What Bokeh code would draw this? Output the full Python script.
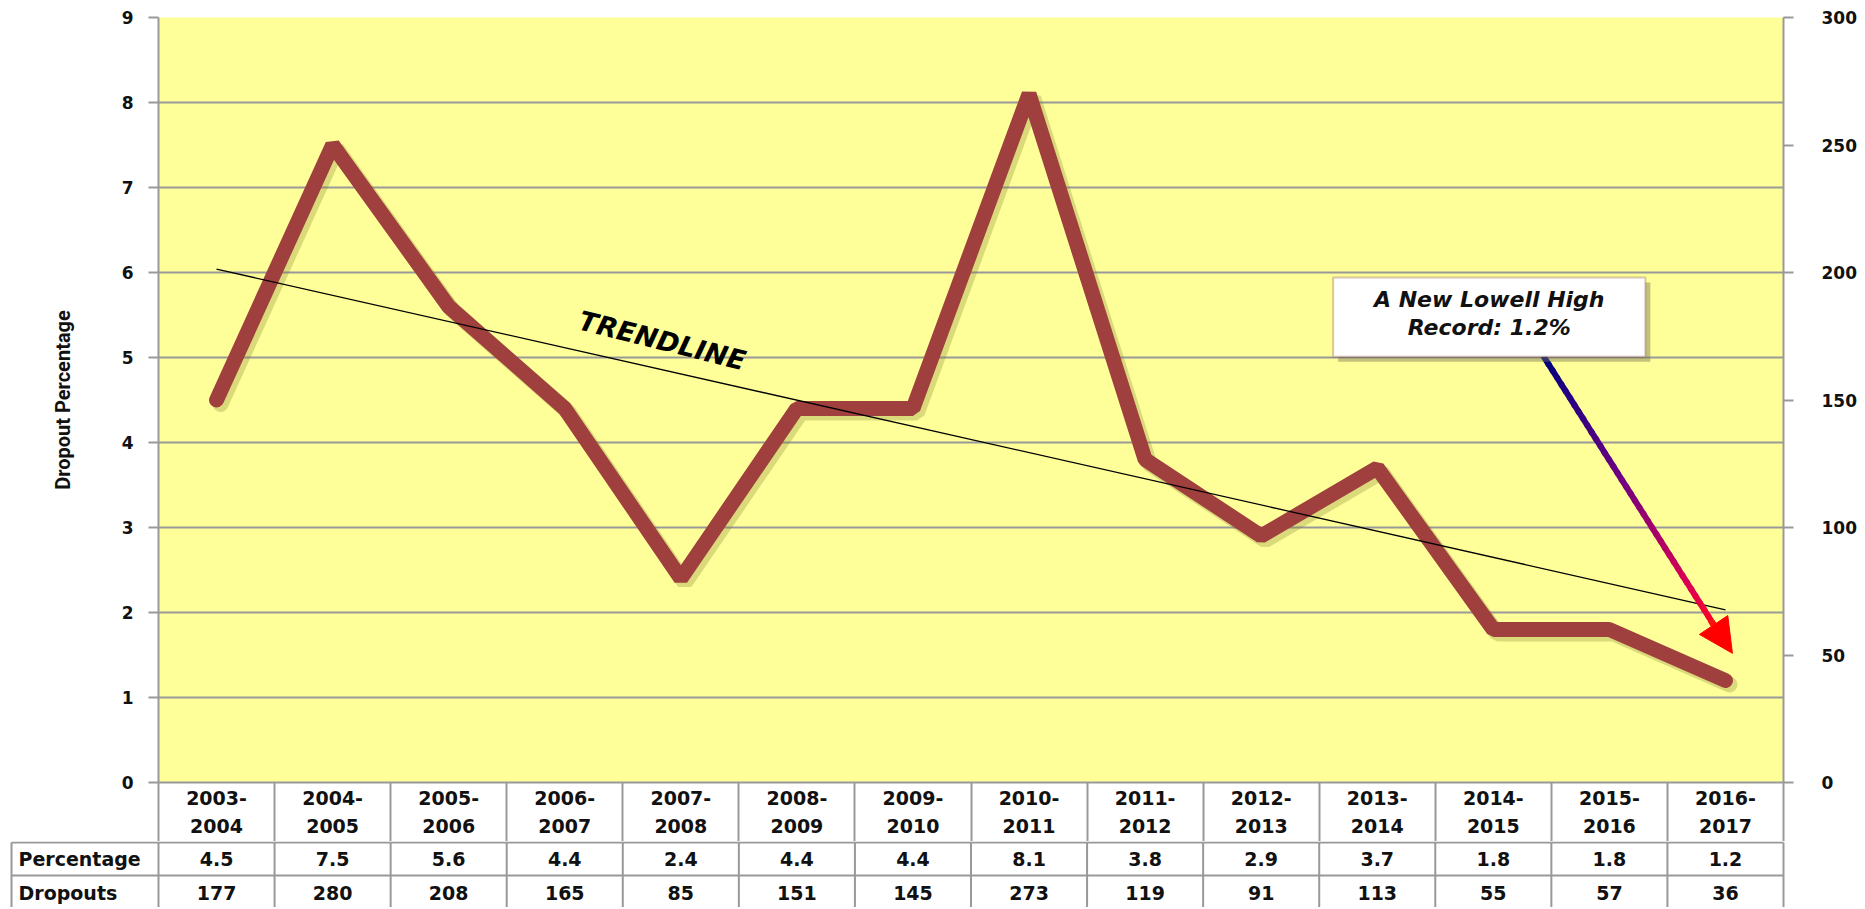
import numpy as np
from bokeh.plotting import figure
from bokeh.models import (Range1d, LinearAxis, FixedTicker, BoxAnnotation, Label,
                          Arrow, NormalHead, ColumnDataSource)
from bokeh.embed import file_html
from bokeh.resources import INLINE
from bokeh.core.properties import value

# ---------------- data ----------------
categories = ["2003-2004", "2004-2005", "2005-2006", "2006-2007", "2007-2008",
              "2008-2009", "2009-2010", "2010-2011", "2011-2012", "2012-2013",
              "2013-2014", "2014-2015", "2015-2016", "2016-2017"]
percentage = [4.5, 7.5, 5.6, 4.4, 2.4, 4.4, 4.4, 8.1, 3.8, 2.9, 3.7, 1.8, 1.8, 1.2]
dropouts = [177, 280, 208, 165, 85, 151, 145, 273, 119, 91, 113, 55, 57, 36]
left_ticks = list(range(0, 10))
right_ticks = list(range(0, 301, 50))
row_labels = ["Percentage", "Dropouts"]
note_lines = ["A New Lowell High", "Record: 1.2%"]
trend_text = "TRENDLINE"
y_title = "Dropout Percentage"

# ---------------- layout constants ----------------
n = len(categories)
xs = list(range(n))
FRAME_W, FRAME_H = 1625, 765
PX_X = FRAME_W / n
PX_Y = FRAME_H / 9.0
GRID = "#999999"
LINE_COL = "#A0403E"
FONT = "DejaVu Sans"
TABLE_FS = "19px"
W = 1860
LEFT = 158
RIGHT = W - LEFT - FRAME_W
HEADER_H = 59

p = figure(width=W, height=17 + FRAME_H + HEADER_H, x_range=Range1d(-0.5, n - 0.5),
           y_range=Range1d(0, 9), output_backend="svg", toolbar_location=None,
           min_border_left=LEFT, min_border_right=RIGHT, min_border_top=17,
           min_border_bottom=HEADER_H,
           background_fill_color="#FFFF99", border_fill_color="white", outline_line_color=None)

# bottom axis = header row of the table
xa = p.xaxis[0]
xa.ticker = FixedTicker(ticks=xs, minor_ticks=[i - 0.5 for i in range(n + 1)])
xa.major_label_overrides = {i: c.replace("-", "-\n") for i, c in enumerate(categories)}
xa.major_tick_out = 0
xa.major_tick_in = 0
xa.minor_tick_out = HEADER_H
xa.minor_tick_in = 0
xa.minor_tick_line_color = GRID
xa.minor_tick_line_width = 2
xa.axis_line_color = GRID
xa.axis_line_width = 2
xa.major_label_standoff = 4 - HEADER_H
xa.major_label_text_font = FONT
xa.major_label_text_font_style = "bold"
xa.major_label_text_font_size = TABLE_FS
xa.major_label_text_color = "#111111"
xa.major_label_text_line_height = 1.3
p.xgrid.visible = False

# left axis
ya = p.yaxis[0]
ya.ticker = FixedTicker(ticks=left_ticks)
p.ygrid.ticker = FixedTicker(ticks=left_ticks)
p.ygrid.grid_line_color = GRID
p.ygrid.grid_line_width = 2
ya.axis_label = y_title
ya.axis_label_text_font = "Roboto"
ya.axis_label_text_font_style = "bold"
ya.axis_label_text_font_size = "20px"
ya.axis_label_text_color = "#111111"
ya.axis_label_standoff = 44
ya.major_label_standoff = 15

# right axis
p.extra_y_ranges = {"drop": Range1d(0, 300)}
ra = LinearAxis(y_range_name="drop", ticker=FixedTicker(ticks=right_ticks))
p.add_layout(ra, "right")
ra.major_label_standoff = 28

for ax in (ya, ra):
    ax.axis_line_color = GRID
    ax.axis_line_width = 2
    ax.major_tick_line_color = GRID
    ax.major_tick_line_width = 2
    ax.major_tick_out = 10
    ax.major_tick_in = 0
    ax.minor_tick_line_color = None
    ax.major_label_text_font = FONT
    ax.major_label_text_font_style = "bold"
    ax.major_label_text_font_size = "17px"
    ax.major_label_text_color = "#111111"

# trend line (least squares)
coef = np.polyfit(xs, percentage, 1)
trend_x = [xs[0], xs[-1]]
trend_y = list(np.polyval(coef, trend_x))

# main line shadow + line
sx = [x + 4 / PX_X for x in xs]
sy = [y - 4 / PX_Y for y in percentage]
p.line(sx, sy, line_color="#7a7a30", line_alpha=0.28, line_width=16,
       line_join="bevel", line_cap="round")
p.line(xs, percentage, line_color=LINE_COL, line_width=15, line_join="bevel", line_cap="round")
p.line(trend_x, trend_y, line_color="black", line_width=1.3)

# TRENDLINE label
p.add_layout(Label(x=3.84, y=5.2, text=trend_text, angle=-0.244, text_align="center",
                   text_baseline="middle", text_font=FONT, text_font_style="bold italic",
                   text_font_size="27px", text_color="black"))

# callout box with shadow
bl, br, bt, bb = 9.62, 12.31, 5.94, 5.01
p.add_layout(BoxAnnotation(left=bl + 5 / PX_X, right=br + 5 / PX_X, top=bt - 5 / PX_Y,
                           bottom=bb - 5 / PX_Y, fill_color="#777755", fill_alpha=0.45,
                           line_color=None))
p.add_layout(BoxAnnotation(left=bl, right=br, top=bt, bottom=bb, fill_color="white",
                           fill_alpha=1.0, line_color="#7f3f3f", line_width=2))
for txt, yy in zip(note_lines, (5.68, 5.35)):
    p.add_layout(Label(x=(bl + br) / 2, y=yy, text=txt, text_align="center",
                       text_baseline="middle", text_font=FONT, text_font_style="bold italic",
                       text_font_size="22px", text_color="#111111"))

# gradient arrow
ax0, ay0 = 11.43, 5.02
ax1, ay1 = 12.92, 1.81
tipx, tipy = 13.06, 1.52
stops_t = [0.0, 0.45, 0.85, 1.0]
stops_c = [(0, 0, 128), (112, 0, 130), (222, 0, 80), (255, 0, 30)]
N = 40
seg = dict(x0=[], y0=[], x1=[], y1=[], c=[])
for k in range(N):
    t0, t1 = k / N, (k + 1) / N
    tm = (t0 + t1) / 2
    rgb = [int(round(np.interp(tm, stops_t, [c[j] for c in stops_c]))) for j in range(3)]
    seg["x0"].append(ax0 + (ax1 - ax0) * t0)
    seg["y0"].append(ay0 + (ay1 - ay0) * t0)
    seg["x1"].append(ax0 + (ax1 - ax0) * min(t1 + 0.01, 1.0))
    seg["y1"].append(ay0 + (ay1 - ay0) * min(t1 + 0.01, 1.0))
    seg["c"].append("#%02x%02x%02x" % tuple(rgb))
p.segment("x0", "y0", "x1", "y1", source=ColumnDataSource(seg), line_color="c", line_width=6)
p.add_layout(Arrow(end=NormalHead(size=34, fill_color="#ff0000", line_color="#ff0000"),
                   x_start=ax1 - 0.05, y_start=ay1 + 0.1, x_end=tipx, y_end=tipy,
                   line_color="#ff1010", line_width=6))

# ---------------- data table below (separate root, frame starts at page x=0) ----------------
TL = -0.5 - LEFT / PX_X          # table figure frame left (page x = 0)
table_left = -0.5 - 147 / PX_X   # left border of table (page x = 11)
T_H = 66
t = figure(width=W, height=T_H,
           x_range=Range1d(TL, n - 0.5 + 2 / PX_X), y_range=Range1d(0, T_H),
           output_backend="svg", toolbar_location=None, x_axis_type=None, y_axis_type=None,
           min_border_left=0, min_border_right=RIGHT - 2, min_border_top=0, min_border_bottom=0,
           outline_line_color=None, background_fill_color="white", border_fill_color="white")
row_top, row_mid, row_bot = T_H - 1, T_H - 34, 0
t.segment(x0=[table_left] * 2, y0=[row_top, row_mid], x1=[n - 0.5] * 2, y1=[row_top, row_mid],
          line_color=GRID, line_width=2)
vx = [table_left] + [i - 0.5 for i in range(n + 1)]
t.segment(x0=vx, y0=[row_bot] * len(vx), x1=vx, y1=[row_top] * len(vx),
          line_color=GRID, line_width=2)
row_y = [T_H - 17, T_H - 51]
t.text(x=xs, y=[row_y[0]] * n, text=[str(v) for v in percentage], text_align="center",
       text_baseline="middle", text_font=value(FONT), text_font_style="bold",
       text_font_size=TABLE_FS, text_color="#111111")
t.text(x=xs, y=[row_y[1]] * n, text=[str(v) for v in dropouts], text_align="center",
       text_baseline="middle", text_font=value(FONT), text_font_style="bold",
       text_font_size=TABLE_FS, text_color="#111111")
t.text(x=[table_left + 7 / PX_X] * 2, y=row_y, text=row_labels, text_align="left",
       text_baseline="middle", text_font=value(FONT), text_font_style="bold",
       text_font_size=TABLE_FS, text_color="#111111")

open("out.html", "w").write(file_html([p, t], INLINE))
